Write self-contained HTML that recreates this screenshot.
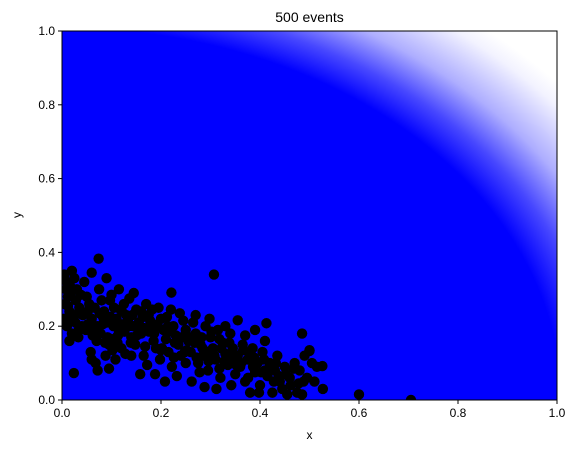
<!DOCTYPE html>
<html><head><meta charset="utf-8"><style>
html,body{margin:0;padding:0;background:#fff;}
svg{display:block;font-family:"Liberation Sans","DejaVu Sans",sans-serif;}
</style></head><body>
<svg id="chart" width="578" height="453" viewBox="0 0 578 453">
<defs>
<radialGradient id="fade" cx="0" cy="1" r="1.42" fx="0" fy="1">
<stop offset="0.71" stop-color="#0000ff" stop-opacity="1"/>
<stop offset="0.765" stop-color="#0000ff" stop-opacity="0.72"/>
<stop offset="0.825" stop-color="#0000ff" stop-opacity="0.32"/>
<stop offset="0.9" stop-color="#0000ff" stop-opacity="0.05"/>
<stop offset="0.93" stop-color="#0000ff" stop-opacity="0"/>
</radialGradient>
<clipPath id="clip"><rect x="62" y="31" width="495" height="369"/></clipPath>
</defs>
<rect x="62" y="31" width="495" height="369" fill="url(#fade)"/>
<g id="points" clip-path="url(#clip)"></g>
<rect x="62" y="31" width="495" height="369" fill="none" stroke="#000" stroke-width="1"/>
<g id="axes" font-size="12" fill="#000"></g>
<text x="309.5" y="22" text-anchor="middle" font-size="14">500 events</text>
<text x="309.5" y="439" text-anchor="middle" font-size="12">x</text>
<text x="21" y="215" text-anchor="middle" font-size="12" transform="rotate(-90 21 215)">y</text>
</svg>
<script>
const xTicks = [0, 0.2, 0.4, 0.6, 0.8, 1.0];
const yTicks = [0, 0.2, 0.4, 0.6, 0.8, 1.0];
const tickLabels = ["0.0", "0.2", "0.4", "0.6", "0.8", "1.0"];
const pointsX = [0.005,0.01,0.008,0.012,0.006,0.015,0.004,0.01,0.02,0.015,0.025,0.03,0.028,0.035,0.022,0.04,0.033,0.045,0.05,0.042,0.06,0.02,0.016,
0.055,0.06,0.065,0.07,0.058,0.075,0.08,0.085,0.09,0.078,0.095,0.088,0.1,0.105,0.11,0.115,0.1,0.12,0.108,0.125,0.13,0.135,0.14,0.128,0.145,0.15,0.148,0.068,0.072,0.095,0.06,0.115,0.09,0.14,0.118,0.082,0.136,0.102,
0.155,0.16,0.165,0.17,0.175,0.18,0.185,0.172,0.19,0.195,0.2,0.205,0.21,0.198,0.215,0.22,0.225,0.23,0.235,0.222,0.24,0.245,0.25,0.158,0.188,0.232,0.208,0.168,0.182,0.238,0.212,0.16,0.25,
0.255,0.26,0.265,0.27,0.275,0.28,0.285,0.29,0.295,0.3,0.305,0.31,0.315,0.32,0.325,0.33,0.335,0.34,0.345,0.35,0.262,0.288,0.312,0.27,0.298,0.33,0.278,0.342,
0.355,0.36,0.365,0.37,0.375,0.38,0.385,0.39,0.395,0.4,0.405,0.41,0.415,0.42,0.425,0.43,0.435,0.44,0.45,0.455,0.46,0.47,0.475,0.48,0.49,0.495,0.5,0.51,0.515,0.37,0.398,0.445,0.485,0.39,
0.074,0.307,0.221,0.355,0.413,0.485,0.5,0.526,0.527,0.024,0.6,0.705,
0.018,0.027,0.038,0.048,0.052,0.066,0.071,0.083,0.092,0.097,0.104,0.112,0.121,0.126,0.133,0.142,0.151,0.157,0.163,0.178,0.186,0.193,0.202,0.216,0.228,0.241,0.252,0.268,0.282,0.294,0.308,0.318,0.328,0.338,0.348,0.362,0.378,0.388,0.408,0.418,0.432,0.452,0.468,0.488,0.505,
0.012,0.033,0.052,0.076,0.098,0.122,0.144,0.166,0.192,0.214,0.236,0.258,0.284,0.302,0.322,0.344,0.366,0.386,0.41,0.438,0.462,0.478,0.034,0.062,0.087,0.113,0.139,0.176,0.2,0.226,0.248,0.272,0.296,0.318,0.352,0.376,0.402,0.428];
const pointsY = [0.34,0.32,0.3,0.28,0.26,0.24,0.22,0.2,0.18,0.16,0.33,0.3,0.27,0.25,0.22,0.2,0.17,0.32,0.28,0.23,0.345,0.35,0.31,
0.26,0.22,0.19,0.16,0.13,0.3,0.27,0.24,0.21,0.18,0.15,0.12,0.285,0.25,0.22,0.19,0.165,0.14,0.11,0.26,0.23,0.2,0.17,0.125,0.29,0.245,0.15,0.1,0.08,0.085,0.11,0.3,0.33,0.12,0.245,0.205,0.275,0.135,
0.21,0.18,0.12,0.26,0.23,0.2,0.16,0.095,0.14,0.25,0.22,0.19,0.165,0.11,0.13,0.245,0.2,0.175,0.15,0.09,0.12,0.215,0.19,0.07,0.07,0.065,0.05,0.145,0.245,0.235,0.225,0.24,0.1,
0.16,0.13,0.21,0.18,0.1,0.15,0.12,0.2,0.08,0.17,0.14,0.11,0.19,0.06,0.155,0.125,0.095,0.18,0.14,0.07,0.05,0.035,0.03,0.23,0.22,0.2,0.075,0.04,
0.12,0.09,0.15,0.05,0.11,0.02,0.14,0.075,0.1,0.04,0.13,0.16,0.065,0.1,0.02,0.08,0.12,0.05,0.09,0.015,0.06,0.1,0.02,0.08,0.12,0.06,0.135,0.05,0.09,0.175,0.02,0.03,0.015,0.19,
0.383,0.34,0.291,0.216,0.208,0.18,0.133,0.092,0.03,0.073,0.015,0.0,
0.29,0.21,0.285,0.19,0.24,0.25,0.2,0.225,0.17,0.27,0.2,0.155,0.24,0.185,0.215,0.23,0.175,0.195,0.225,0.215,0.18,0.205,0.14,0.185,0.155,0.17,0.135,0.155,0.17,0.13,0.12,0.165,0.105,0.155,0.11,0.1,0.13,0.115,0.11,0.085,0.1,0.07,0.085,0.05,0.1,
0.255,0.235,0.205,0.235,0.225,0.205,0.2,0.195,0.2,0.2,0.165,0.17,0.14,0.185,0.14,0.12,0.135,0.09,0.08,0.065,0.04,0.045,0.19,0.175,0.155,0.175,0.155,0.185,0.135,0.115,0.13,0.115,0.105,0.085,0.095,0.06,0.075,0.05];
const X0 = 62, X1 = 557, Y0 = 400, Y1 = 31;
function sx(v){ return X0 + v * (X1 - X0); }
function sy(v){ return Y0 - v * (Y0 - Y1); }
const NS = "http://www.w3.org/2000/svg";
const pg = document.getElementById('points');
for (let i = 0; i < pointsX.length; i++) {
  const c = document.createElementNS(NS, 'circle');
  c.setAttribute('cx', sx(pointsX[i]));
  c.setAttribute('cy', sy(pointsY[i]));
  c.setAttribute('r', 5.2);
  c.setAttribute('fill', '#000');
  
  
  pg.appendChild(c);
}
const ax = document.getElementById('axes');
xTicks.forEach((t, i) => {
  const l = document.createElementNS(NS, 'line');
  l.setAttribute('x1', sx(t)); l.setAttribute('x2', sx(t));
  l.setAttribute('y1', Y0); l.setAttribute('y2', Y0 + 4);
  l.setAttribute('stroke', '#000');
  
  
  ax.appendChild(l);
  const tx = document.createElementNS(NS, 'text');
  tx.setAttribute('x', sx(t)); tx.setAttribute('y', Y0 + 17);
  tx.setAttribute('text-anchor', 'middle');
  tx.textContent = tickLabels[i];
  
  
  ax.appendChild(tx);
});
yTicks.forEach((t, i) => {
  const l = document.createElementNS(NS, 'line');
  l.setAttribute('x1', X0 - 4); l.setAttribute('x2', X0);
  l.setAttribute('y1', sy(t)); l.setAttribute('y2', sy(t));
  l.setAttribute('stroke', '#000');
  
  
  ax.appendChild(l);
  const tx = document.createElementNS(NS, 'text');
  tx.setAttribute('x', X0 - 7); tx.setAttribute('y', sy(t) + 4);
  tx.setAttribute('text-anchor', 'end');
  tx.textContent = tickLabels[i];
  
  
  ax.appendChild(tx);
});
</script>
</body></html>
